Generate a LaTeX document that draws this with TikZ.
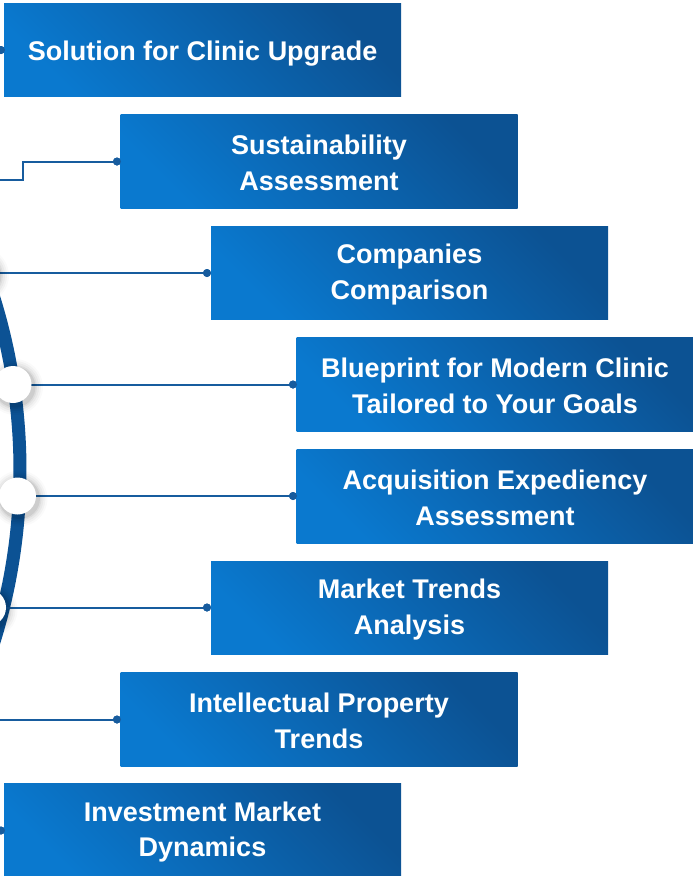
\documentclass[tikz,border=0pt]{standalone}
\usepackage{fontspec}
\setmainfont{Liberation Sans}
\definecolor{boxlight}{HTML}{0A79CF}
\definecolor{boxdark}{HTML}{0C5293}
\definecolor{arcc}{HTML}{0C5294}
\definecolor{linec}{HTML}{175C9E}
\begin{document}
\begin{tikzpicture}[x=1pt,y=-1pt,
  boxshape/.style={rectangle, minimum width=397pt, minimum height=93.5pt, inner sep=0pt,
    top color=boxdark, bottom color=boxlight, shading angle=-45},
  boxtext/.style={inner sep=0pt, text=white, align=center,
    font=\bfseries\fontsize{27}{35.5}\selectfont},
  conn/.style={draw=linec, line width=2pt},
  dotc/.style={circle, fill=linec, inner sep=0pt, minimum size=8pt},
  hub/.style={circle, fill=white, inner sep=0pt, minimum size=37pt}
]
\useasboundingbox (0,0) rectangle (693,876);
\clip (0,0) rectangle (693,876);

% big arc
\draw[arcc, line width=13pt] (-560,470) ++(-22:580) arc[start angle=-22, end angle=22, radius=580];

% dots and free ends
\node[dotc] (d1) at (1,50) {};
\node[dotc] (d2) at (117,161.5) {};
\node[dotc] (d3) at (207,273) {};
\node[dotc] (d4) at (293,384.5) {};
\node[dotc] (d5) at (293,496) {};
\node[dotc] (d6) at (207,607.5) {};
\node[dotc] (d7) at (117,719.5) {};
\node[dotc] (d8) at (1,830.5) {};
\coordinate (s2) at (0,180);
\coordinate (k2) at (23,180);
\coordinate (s7) at (0,719.5);

% hub positions
\coordinate (p3) at (-21,273);
\coordinate (p4) at (13,384.5);
\coordinate (p5) at (17.5,496);
\coordinate (p6) at (-12.5,607.5);

% connectors
\draw[conn] (s2) -- (k2) |- (d2.center);
\draw[conn] (p3) -- (d3.center);
\draw[conn] (p4) -- (d4.center);
\draw[conn] (p5) -- (d5.center);
\draw[conn] (p6) -- (d6.center);
\draw[conn] (s7) -- (d7.center);

% hub shadows
\foreach \p in {p3,p4,p5,p6}{
  \foreach \r/\o in {28/0.02,26/0.03,24/0.04,22/0.05,20.5/0.07}
    \fill[black, opacity=\o] (\p) ++(2,2.5) circle[radius=\r];
}
% hubs
\node[hub] (h3) at (p3) {};
\node[hub] (h4) at (p4) {};
\node[hub] (h5) at (p5) {};
\node[hub] (h6) at (p6) {};

% boxes
\node[boxshape] (b1) at (202.5,50) {};
\node[boxshape] (b2) at (319,161.5) {};
\node[boxshape] (b3) at (409.5,273) {};
\node[boxshape] (b4) at (495,384.5) {};
\node[boxshape] (b5) at (495,496.5) {};
\node[boxshape] (b6) at (409.5,608) {};
\node[boxshape] (b7) at (319,719.5) {};
\node[boxshape] (b8) at (202.5,830.5) {};

\node[boxtext] (t1) at ([yshift=-3.5pt]b1.center) {Solution for Clinic Upgrade};
\node[boxtext] (t2) at ([yshift=-1.5pt]b2.center) {Sustainability\\Assessment};
\node[boxtext] (t3) at ([yshift=-1.5pt]b3.center) {Companies\\Comparison};
\node[boxtext] (t4) at ([yshift=-1.5pt]b4.center) {Blueprint for Modern Clinic\\Tailored to Your Goals};
\node[boxtext] (t5) at ([yshift=-1.5pt]b5.center) {Acquisition Expediency\\Assessment};
\node[boxtext] (t6) at ([yshift=-1.5pt]b6.center) {Market Trends\\Analysis};
\node[boxtext] (t7) at ([yshift=-1.5pt]b7.center) {Intellectual Property\\Trends};
\node[boxtext] (t8) at ([yshift=-1.5pt]b8.center) {Investment Market\\Dynamics};

% dots on top
\foreach \d in {d1,d2,d3,d4,d5,d6,d7,d8}
  \fill[linec] (\d) circle[radius=4];
\end{tikzpicture}
\end{document}
